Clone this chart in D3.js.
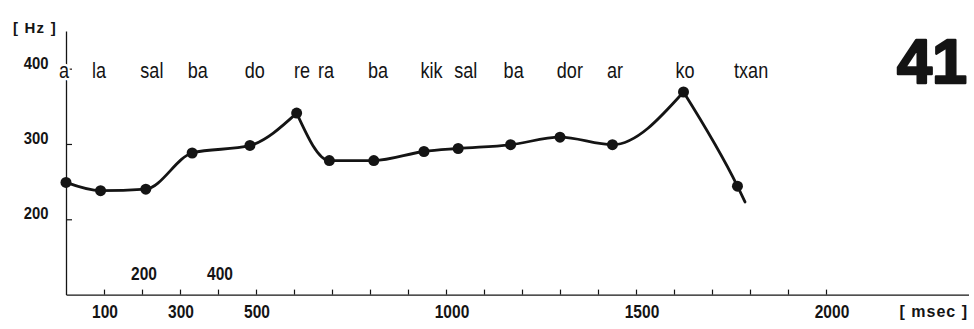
<!DOCTYPE html>
<html>
<head>
<meta charset="utf-8">
<script src="https://cdn.jsdelivr.net/npm/d3@7"></script>
<style>
  html, body { margin: 0; padding: 0; background: #fff; }
  svg { display: block; }
  text { font-family: "Liberation Sans", Arial, Helvetica, sans-serif; }
</style>
</head>
<body>
<svg id="chart" width="974" height="329"></svg>
<script>
// Syllables of the utterance and where their labels sit on the time axis (msec)
const syllables = ["a", "la", "sal", "ba", "do", "re", "ra", "ba", "kik", "sal", "ba", "dor", "ar", "ko", "txan"];
const syllableTimes = [-5, 87, 226, 347, 497, 621, 684, 821, 962, 1052, 1178, 1326, 1445, 1629, 1803];

// Measured pitch points: time (msec) and fundamental frequency (Hz)
const pointTimes = [0, 91, 210, 332, 484, 607, 693, 810, 942, 1032, 1170, 1300, 1438, 1625, 1767];
const pointHz = [249, 238, 240, 288, 298, 341, 278, 278, 290, 294, 299, 309, 299, 369, 244];

// The contour trails on past the last measured point
const tailTime = 1787;
const tailHz = 223;

// Axis ticks and labels
const xTicks = d3.range(100, 2001, 100);
const xLabelsBelow = [100, 300, 500, 1000, 1500, 2000];
const xLabelsAbove = [200, 400];
const yTicks = [200, 300, 400];

const svg = d3.select("#chart");
const ink = "#141414";

const x = d3.scaleLinear().domain([0, 2375]).range([66, 968.5]);
const y = d3.scaleLinear().domain([100, 450]).range([294.6, 31]);

// Condensed lettering: a regular face squeezed horizontally
function condensed(sel, px, py, sx) {
  return sel.attr("transform", (d, i) => `translate(${px(d, i)},${py(d, i)}) scale(${sx},1)`);
}

// Time axis: small upward ticks every 100 ms
const xAxisG = svg.append("g")
  .attr("transform", `translate(0,${y(100)})`)
  .call(d3.axisBottom(x).tickValues(xTicks).tickSize(-5).tickSizeOuter(0).tickFormat(""));
xAxisG.select(".domain").attr("stroke", ink).attr("stroke-width", 1.3);
xAxisG.selectAll(".tick line").attr("stroke", ink).attr("stroke-width", 1.2);

condensed(
  svg.append("g").selectAll("text").data(xLabelsBelow).join("text"),
  d => x(d) + (d >= 1000 ? 6 : 1), () => 318, 0.84)
  .attr("text-anchor", "middle")
  .attr("font-size", 18.5)
  .attr("font-weight", "bold")
  .attr("fill", ink)
  .text(d => d);

condensed(
  svg.append("g").selectAll("text").data(xLabelsAbove).join("text"),
  d => x(d) + 2, () => 280, 0.84)
  .attr("text-anchor", "middle")
  .attr("font-size", 18.5)
  .attr("font-weight", "bold")
  .attr("fill", ink)
  .text(d => d);

// Frequency axis: short ticks pointing into the plot
const yAxisG = svg.append("g")
  .attr("transform", `translate(${x(0)},0)`)
  .call(d3.axisLeft(y).tickValues(yTicks).tickSize(-6).tickSizeOuter(0).tickFormat(""));
yAxisG.select(".domain").attr("stroke", ink).attr("stroke-width", 1.3);
yAxisG.selectAll(".tick line").attr("stroke", ink).attr("stroke-width", 1.2);

condensed(
  svg.append("g").selectAll("text").data(yTicks).join("text"),
  () => 48.5, d => y(d), 0.9)
  .attr("text-anchor", "end")
  .attr("font-size", 16.5)
  .attr("font-weight", "bold")
  .attr("fill", ink)
  .text(d => d);

// Unit labels
svg.append("text")
  .attr("x", 13).attr("y", 33)
  .attr("font-size", 15).attr("font-weight", "bold").attr("letter-spacing", 1.2)
  .attr("fill", ink)
  .text("[ Hz ]");

svg.append("text")
  .attr("x", 968).attr("y", 317)
  .attr("text-anchor", "end")
  .attr("font-size", 16).attr("font-weight", "bold").attr("letter-spacing", 1)
  .attr("fill", ink)
  .text("[ msec ]");

// Example number
svg.append("text")
  .attr("x", 967).attr("y", 82.5)
  .attr("text-anchor", "end")
  .attr("font-size", 63).attr("font-weight", "bold")
  .attr("fill", ink)
  .attr("stroke", ink)
  .attr("stroke-width", 2.4)
  .attr("stroke-linejoin", "round")
  .text("41");

// Syllable labels along the top, with a white halo so they sit over the axis
condensed(
  svg.append("g").selectAll("text").data(syllables).join("text"),
  (d, i) => x(syllableTimes[i]), () => 77.5, 0.84)
  .attr("text-anchor", "middle")
  .attr("font-size", 21.5)
  .attr("fill", ink)
  .attr("stroke", "#fff")
  .attr("stroke-width", 5)
  .attr("paint-order", "stroke")
  .text(d => d);

// Pitch contour: smooth runs joined with sharp corners at the prominent peaks
const pts = pointTimes.map((t, i) => ({ t, hz: pointHz[i] }));
const contour = pts.concat([{ t: tailTime, hz: tailHz }]);

const peakIdx = [];
for (let i = 1; i < pts.length - 1; i++) {
  const prom = pts[i].hz - Math.max(pts[i - 1].hz, pts[i + 1].hz);
  if (prom > 20) peakIdx.push(i);
}
const cuts = [0, ...peakIdx, contour.length - 1];
const line = d3.line()
  .x(d => x(d.t))
  .y(d => y(d.hz))
  .curve(d3.curveMonotoneX);

svg.append("g").selectAll("path")
  .data(d3.pairs(cuts).map(([a, b]) => contour.slice(a, b + 1)))
  .join("path")
  .attr("d", line)
  .attr("fill", "none")
  .attr("stroke", ink)
  .attr("stroke-width", 2.8)
  .attr("stroke-linecap", "round")
  .attr("stroke-linejoin", "round");

svg.append("g").selectAll("circle")
  .data(pts)
  .join("circle")
  .attr("cx", d => x(d.t))
  .attr("cy", d => y(d.hz))
  .attr("r", 5.5)
  .attr("fill", ink);
</script>
</body>
</html>
